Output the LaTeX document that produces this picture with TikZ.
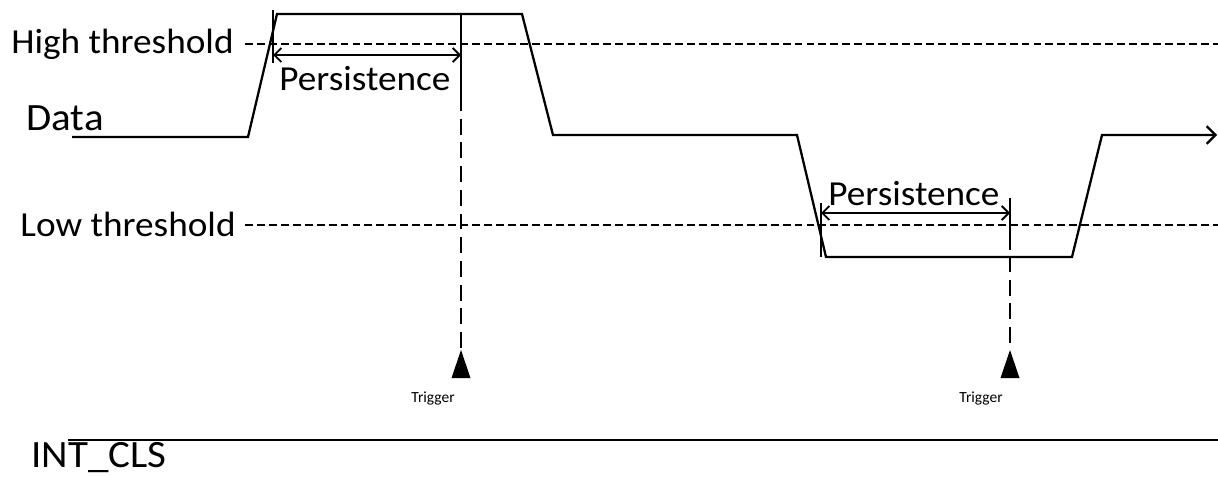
\documentclass[tikz,border=0pt]{standalone}
\usepackage{fontspec}
\setmainfont{Carlito}
\newfontfamily\labelfont[FakeStretch=1.06]{Carlito}
\usetikzlibrary{arrows.meta}
\newcommand{\drawsignal}{\draw[line width=1.3pt]}
\newcommand{\drawthreshold}[1]{\draw[line width=0.9pt, dash pattern=on 4.5pt off 2.3pt] (245,#1)--(1218,#1);}
% persistence: tick x, trigger x, arrow y, tick top, tick bottom
\newcommand{\drawpersistence}[5]{
    \draw[line width=1.1pt] (#1,#4)--(#1,#5);
    \draw[line width=1.1pt, {Straight Barb[length=4pt,width=8pt]}-{Straight Barb[length=4pt,width=8pt]}] (#1,#3)--(#2,#3);
}
% trigger: x, top of dashed part
\newcommand{\drawtrigger}[2]{
    \draw[line width=1.1pt, dash pattern=on 9pt off 4.5pt] (#1,#2)--(#1,350);
    \fill (#1,350)--(#1-9.5,378)--(#1+9.5,378)--cycle;
}
\tikzset{
    midlabel/.style={inner sep=0pt, font=\labelfont\fontsize{20}{24}\selectfont},
    biglabel/.style={inner sep=0pt, font=\labelfont\fontsize{22}{26}\selectfont},
    smalllabel/.style={inner sep=0pt, font=\fontsize{8.8}{10}\selectfont}
}
\begin{document}
\begin{tikzpicture}[x=0.02cm,y=-0.02cm]
\useasboundingbox (0,0) rectangle (1218,477);
\drawthreshold{44}
\drawthreshold{225}
\drawsignal[-{Straight Barb[length=5pt,width=10pt]}] (72,137)--(248,137)--(277,14)--(522,14)--(553,135)--(797,135)--(826,257)--(1072,257)--(1102,135)--(1217,135);
\drawpersistence{273}{461}{55}{10}{63}
\draw[line width=1.1pt] (461,14)--(461,95);
\drawtrigger{461}{95}
\drawpersistence{821}{1010}{213}{203}{257}
\draw[line width=1.1pt] (1010,198)--(1010,250);
\drawtrigger{1010}{256}
\draw[line width=1.1pt] (68,440)--(1218,440);
\node[midlabel, anchor=base east] (high) at (234,53) {High threshold};
\node[midlabel, anchor=base east] (low) at (236,236) {Low threshold};
\node[biglabel, anchor=base west] (data) at (26,130) {Data};
\node[biglabel, anchor=base west] (intcls) at (31,467) {INT\_CLS};
\node[midlabel, anchor=base west] (pers1) at (279,90) {Persistence};
\node[midlabel, anchor=base west] (pers2) at (828,205) {Persistence};
\node[smalllabel, anchor=base east] (trig1) at (455,402) {Trigger};
\node[smalllabel, anchor=base east] (trig2) at (1003,402) {Trigger};
\end{tikzpicture}
\end{document}
